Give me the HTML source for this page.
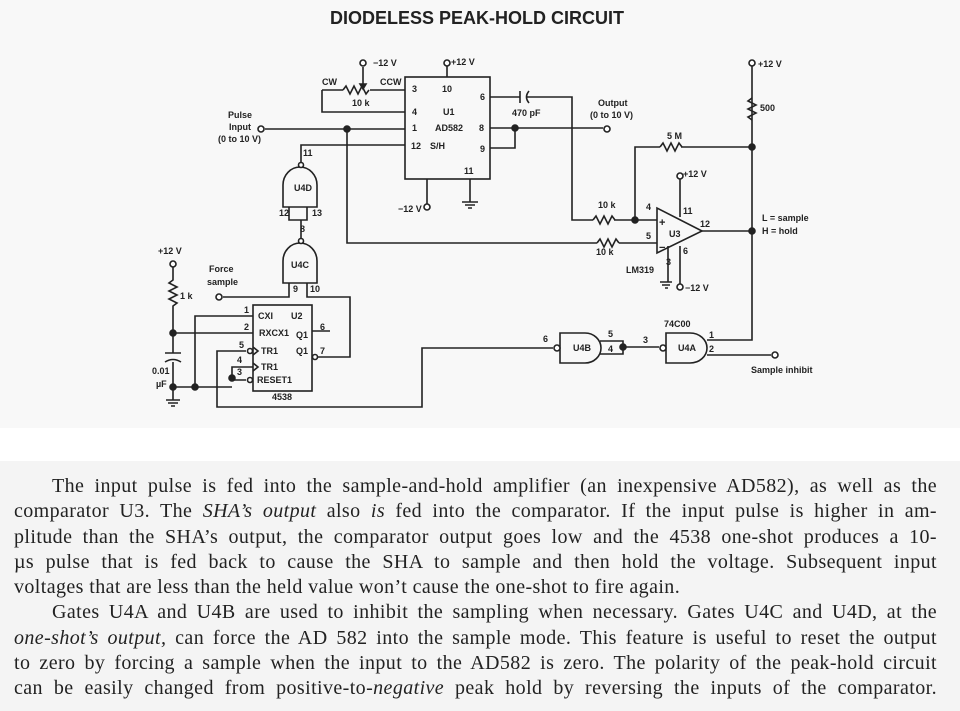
<!DOCTYPE html>
<html><head><meta charset="utf-8"><style>
body{margin:0;width:960px;height:711px;overflow:hidden;background:#fff;position:relative}
.top{position:absolute;left:0;top:0;width:960px;height:428px;background:#f8f8f8}
.bot{position:absolute;left:0;top:461px;width:960px;height:250px;background:#f4f4f4}
svg{position:absolute;left:0;top:0}
svg text{font-family:"Liberation Sans",sans-serif;font-weight:bold;font-size:9px;fill:#222}
.p{position:absolute;left:14px;width:923px;font-family:"Liberation Serif",serif;font-size:20px;letter-spacing:0.4px;color:#222;line-height:25.3px;white-space:nowrap}
.l{text-align:justify;text-align-last:justify;height:25.3px;overflow:hidden}
</style></head><body>
<div class="top"></div><div class="bot"></div>
<svg width="960" height="430" viewBox="0 0 960 430" fill="none" stroke="#222" stroke-width="1.6">
<text x="477" y="24" text-anchor="middle" style="font-size:18px;stroke:none">DIODELESS PEAK-HOLD CIRCUIT</text>
<g stroke="none">
<text x="373" y="66">−12 V</text><text x="451" y="65">+12 V</text>
<text x="322" y="85">CW</text><text x="380" y="85">CCW</text><text x="352" y="106">10 k</text>
<text x="412" y="92">3</text><text x="442" y="92">10</text><text x="480" y="100">6</text>
<text x="412" y="115">4</text><text x="443" y="115">U1</text>
<text x="412" y="131">1</text><text x="435" y="131">AD582</text><text x="479" y="131">8</text>
<text x="411" y="149">12</text><text x="430" y="149">S/H</text><text x="480" y="152">9</text>
<text x="464" y="174">11</text><text x="398" y="212">−12 V</text>
<text x="228" y="118">Pulse</text><text x="229" y="130">Input</text><text x="218" y="142">(0 to 10 V)</text>
<text x="303" y="156">11</text><text x="294" y="191">U4D</text>
<text x="279" y="216">12</text><text x="312" y="216">13</text><text x="300" y="232">8</text>
<text x="291" y="268">U4C</text><text x="293" y="292">9</text><text x="310" y="292">10</text>
<text x="209" y="272">Force</text><text x="207" y="285">sample</text>
<text x="158" y="254">+12 V</text><text x="180" y="299">1 k</text>
<text x="152" y="374">0.01</text><text x="156" y="387">µF</text>
<text x="244" y="313">1</text><text x="244" y="330">2</text><text x="239" y="348">5</text><text x="237" y="363">4</text><text x="237" y="375">3</text>
<text x="258" y="319">CXI</text><text x="291" y="319">U2</text><text x="259" y="336">RXCX1</text>
<text x="296" y="338">Q1</text><text x="261" y="354">TR1</text><text x="296" y="354">Q1</text>
<text x="261" y="370">TR1</text><text x="257" y="383">RESET1</text><text x="272" y="400">4538</text>
<text x="320" y="330">6</text><text x="320" y="354">7</text>
<text x="512" y="116">470 pF</text><text x="598" y="106">Output</text><text x="590" y="118">(0 to 10 V)</text>
<text x="667" y="139">5 M</text><text x="758" y="67">+12 V</text><text x="760" y="111">500</text>
<text x="683" y="177">+12 V</text><text x="598" y="208">10 k</text><text x="596" y="255">10 k</text>
<text x="646" y="210">4</text><text x="646" y="239">5</text><text x="683" y="214">11</text><text x="700" y="227">12</text>
<text x="669" y="237">U3</text><text x="683" y="254">6</text><text x="666" y="265">3</text>
<text x="626" y="273">LM319</text><text x="685" y="291">−12 V</text>
<text x="762" y="221">L = sample</text><text x="762" y="234">H = hold</text>
<text x="543" y="342">6</text><text x="573" y="351">U4B</text><text x="608" y="337">5</text><text x="608" y="352">4</text>
<text x="643" y="343">3</text><text x="664" y="327">74C00</text><text x="678" y="351">U4A</text>
<text x="709" y="338">1</text><text x="709" y="352">2</text><text x="751" y="373">Sample inhibit</text>
<text x="659" y="226" style="font-size:11px">+</text><text x="659" y="251" style="font-size:11px">−</text>
</g>
<rect x="405" y="77" width="85" height="102"/>
<path d="M447 66V77M363 67V86M343 90l3-4 4 8 4-8 4 8 4-8 4 8 3-4M322 90h21M370 90h35M322 90v22h83"/>
<path d="M360 84l3 5 3-5z" fill="#222"/>
<path d="M265 129H405M347 129V243H597M597 243l3-4 4 8 4-8 4 8 4-8 3 4M619 243h38"/>
<path d="M405 145H301V163"/>
<path d="M427 179V204M470 179V202M462 202h16M465 205h10M468 208h4"/>
<path d="M283 207V185A17 18 0 0 1 317 185V207Z"/>
<path d="M289 207V220H307V207M301 220V239"/>
<path d="M283 283V261A17 18 0 0 1 317 261V283Z"/>
<path d="M289 283V297H223M307 283V297H350V357H318"/>
<rect x="253" y="305" width="59" height="86"/>
<path d="M253 316H195V387M253 333H173M312 331H330"/>
<path d="M173 267V280l-4 3 8 4-8 4 8 4-8 4 8 4-4 3V353M165 353h16M165 362q8-5 16 0M173 362V400M166 400h14M168 403h10M171 406h4"/>
<path d="M173 387H232M246 351H217V407H422V348H553"/>
<path d="M253 367H232V380H246"/>
<path d="M253 347l5 4-5 4M253 363l5 4-5 4"/>
<path d="M560 333H585A16 15 0 0 1 585 363H560Z"/>
<path d="M600 341H623V354H600M623 347H659"/>
<path d="M666 333H690A17 15 0 0 1 690 363H666Z"/>
<path d="M707 340H752V63M707 355H771"/>
<path d="M490 97H520M527 97H572V220H593M520 91V103M529 91q-5 6 0 12"/>
<path d="M593 220l3-4 4 8 4-8 4 8 4-8 3 4M614 220H657M635 220V147H660"/>
<path d="M660 147l3-4 4 8 4-8 4 8 4-8 3 4M681 147H752"/>
<path d="M752 98l-4 3 8 4-8 4 8 4-8 4 4 3"/>
<path d="M490 128H603M490 148H515V128"/>
<path d="M657 208V253L702 231Z"/>
<path d="M702 231H752M680 179V217M680 246V284M668 246V282M660 282h12M662 285h8M665 288h3"/>
<g fill="#fff"><circle cx="447" cy="63" r="3"/><circle cx="363" cy="63" r="3"/><circle cx="427" cy="207" r="3"/>
<circle cx="261" cy="129" r="3"/><circle cx="301" cy="165" r="2.5"/><circle cx="301" cy="241" r="2.5"/>
<circle cx="219" cy="297" r="3"/><circle cx="173" cy="264" r="3"/><circle cx="250" cy="351" r="2.5"/>
<circle cx="250" cy="380" r="2.5"/><circle cx="315" cy="357" r="2.5"/><circle cx="557" cy="348" r="3"/>
<circle cx="663" cy="348" r="3"/><circle cx="775" cy="355" r="3"/><circle cx="607" cy="129" r="3"/>
<circle cx="752" cy="63" r="3"/><circle cx="680" cy="176" r="3"/><circle cx="680" cy="287" r="3"/></g>
<g fill="#222"><circle cx="347" cy="129" r="3"/><circle cx="515" cy="128" r="3"/><circle cx="635" cy="220" r="3"/>
<circle cx="752" cy="147" r="3"/><circle cx="752" cy="231" r="3"/><circle cx="623" cy="347" r="3"/>
<circle cx="173" cy="333" r="3"/><circle cx="173" cy="387" r="3"/><circle cx="195" cy="387" r="3"/><circle cx="232" cy="378" r="3"/></g>
</svg>
<div class="p" style="top:474px">
<div class="l" style="padding-left:38px">The input pulse is fed into the sample-and-hold amplifier (an inexpensive AD582), as well as the</div>
<div class="l">comparator U3. The <i>SHA’s output</i> also <i>is</i> fed into the comparator. If the input pulse is higher in am-</div>
<div class="l">plitude than the SHA’s output, the comparator output goes low and the 4538 one-shot produces a 10-</div>
<div class="l">µs pulse that is fed back to cause the SHA to sample and then hold the voltage. Subsequent input</div>
<div class="l" style="text-align-last:left">voltages that are less than the held value won’t cause the one-shot to fire again.</div>
<div class="l" style="padding-left:38px">Gates U4A and U4B are used to inhibit the sampling when necessary. Gates U4C and U4D, at the</div>
<div class="l"><i>one-shot’s output,</i> can force the AD 582 into the sample mode. This feature is useful to reset the output</div>
<div class="l">to zero by forcing a sample when the input to the AD582 is zero. The polarity of the peak-hold circuit</div>
<div class="l">can be easily changed from positive-to-<i>negative</i> peak hold by reversing the inputs of the comparator.</div>
</div>
</body></html>
